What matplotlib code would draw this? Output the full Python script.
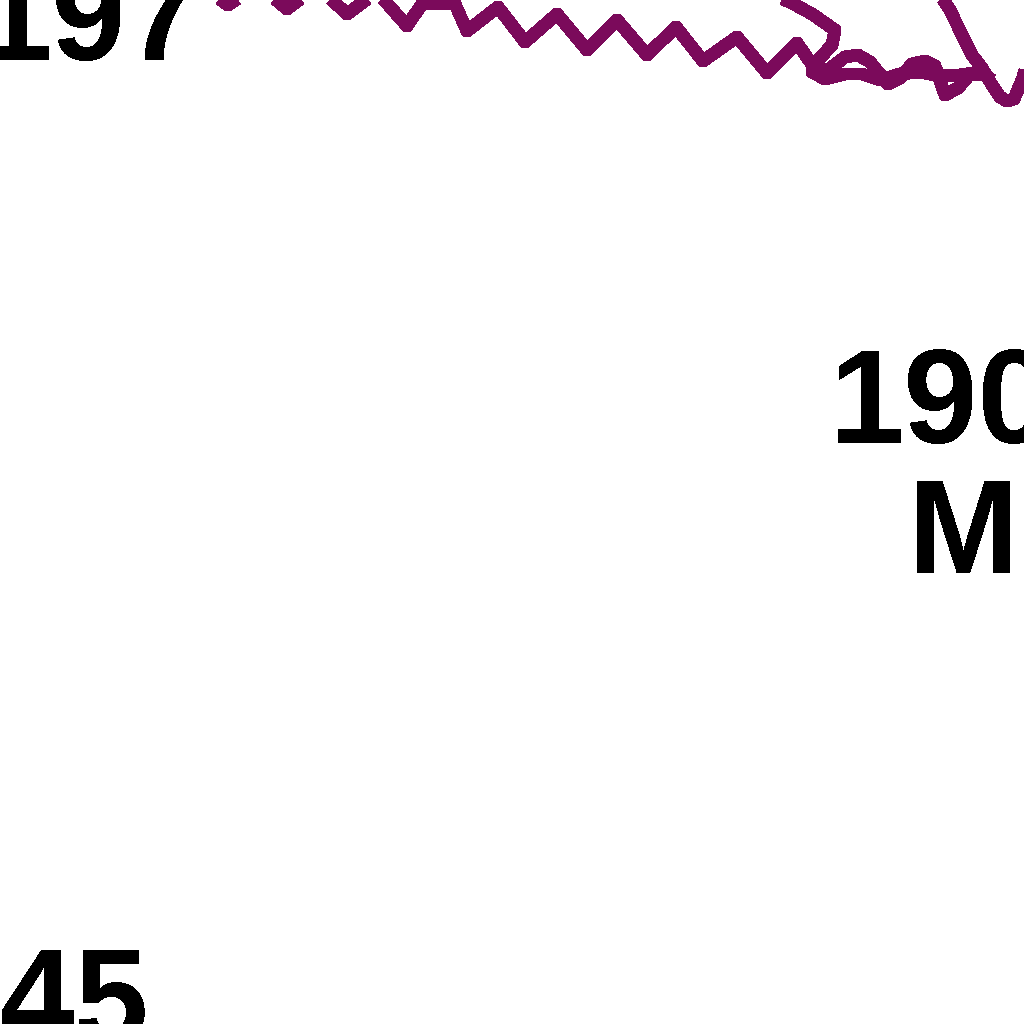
import matplotlib
matplotlib.use("Agg")
import matplotlib.pyplot as plt

# main wiggly series (peaks and troughs)
wave_x = [200, 228, 258, 287, 317, 347, 377, 407, 422, 455, 467, 498, 525, 557,
          587, 617, 647, 676, 703, 737, 767, 797, 820, 845, 858, 870, 888, 900,
          912, 925, 935, 945, 958, 970, 985]
wave_y = [-15, 5, -15, 9, -14, 14, -8, 26, 4, 4, 31, 7, 42, 14,
          50, 20, 55, 27, 61, 37, 73, 43, 76, 57, 55, 62, 84, 78,
          64, 61, 66, 95, 88, 74, 75]

# second series coming down from the top
branch_b_x = [765, 790, 812, 835, 832, 820, 812, 825, 845, 862, 880, 900, 920, 940, 960, 980, 992]
branch_b_y = [-8, 2, 14, 30, 45, 58, 72, 79, 74, 74, 80, 74, 72, 76, 75, 72, 80]

# third series on the right
branch_c_x = [938, 950, 962, 972, 982, 992, 1000, 1007, 1014, 1022, 1030]
branch_c_y = [-8, 10, 35, 55, 68, 85, 97, 101, 99, 80, 55]

labels = ["197", "190", "M", "45"]
label_x = [-22, 830, 908, 0]
label_y = [60, 443, 573, 1043]

purple = "#7b0a5b"

fig = plt.figure(figsize=(10.24, 10.24), dpi=100)
ax = fig.add_axes([0, 0, 1, 1])
ax.set_xlim(0, 1024)
ax.set_ylim(1024, 0)
ax.axis("off")

for xs, ys in [(wave_x, wave_y), (branch_b_x, branch_b_y), (branch_c_x, branch_c_y)]:
    ax.plot(xs, ys, color=purple, linewidth=8.6, solid_joinstyle="round",
            solid_capstyle="butt", antialiased=False)

for txt, x, y in zip(labels, label_x, label_y):
    ax.text(x, y, txt, fontsize=96, family="Liberation Sans", fontweight="bold",
            color="black", ha="left", va="baseline", antialiased=False)

fig.savefig("out.png", dpi=100, facecolor="white")
